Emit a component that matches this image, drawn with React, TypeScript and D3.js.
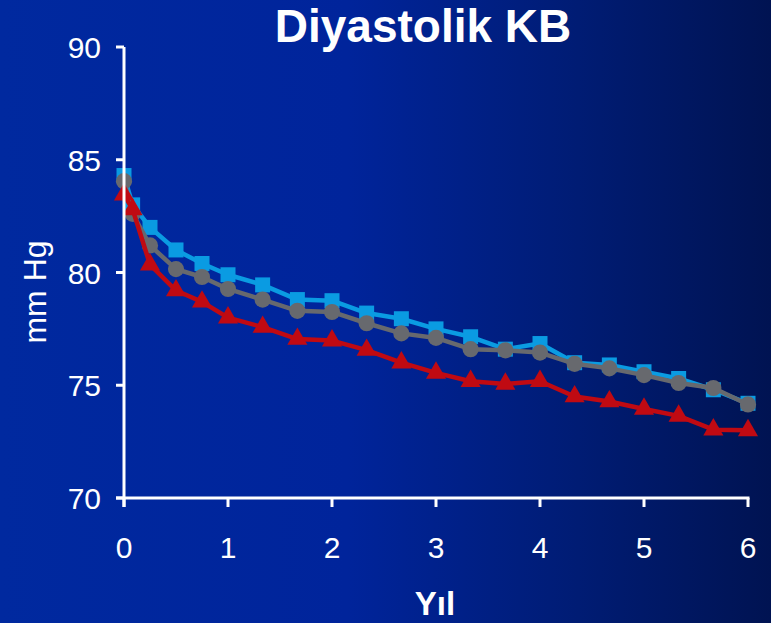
import React from "react";
import * as d3 from "d3";

const years = [0, 0.083, 0.25, 0.5, 0.75, 1, 1.333, 1.667, 2, 2.333, 2.667, 3, 3.333, 3.667, 4, 4.333, 4.667, 5, 5.333, 5.667, 6];
const blueSeries = [84.3, 83.0, 82.0, 81.0, 80.4, 79.9, 79.45, 78.8, 78.75, 78.2, 77.95, 77.5, 77.15, 76.6, 76.85, 76.0, 75.9, 75.6, 75.3, 74.8, 74.2];
const graySeries = [84.05, 82.6, 81.2, 80.15, 79.8, 79.27, 78.8, 78.3, 78.25, 77.75, 77.3, 77.1, 76.6, 76.55, 76.45, 75.95, 75.75, 75.45, 75.1, 74.88, 74.15];
const redSeries = [83.45, 82.8, 80.35, 79.2, 78.7, 78.0, 77.58, 77.05, 76.98, 76.56, 76.0, 75.55, 75.18, 75.06, 75.18, 74.5, 74.28, 73.95, 73.64, 73.03, 73.0];
const xTicks = [0, 1, 2, 3, 4, 5, 6];
const yTicks = [70, 75, 80, 85, 90];

const W = 771;
const H = 623;

export default function App() {
  const x = d3.scaleLinear().domain([0, 6]).range([124, 748]);
  const y = d3.scaleLinear().domain([70, 90]).range([498, 47]);
  const line = d3
    .line<number>()
    .x((_, i) => x(years[i]))
    .y((d) => y(d));

  const series = [
    { vals: blueSeries, color: "#0a9be2", symbol: d3.symbolSquare, size: 225 },
    { vals: graySeries, color: "#67696e", symbol: d3.symbolCircle, size: 205 },
    { vals: redSeries, color: "#c00a12", symbol: d3.symbolTriangle, size: 175 },
  ];

  const font = "'Liberation Sans', Arial, sans-serif";

  return (
    <svg width={W} height={H} style={{ position: "absolute", left: 0, top: 0 }} fontFamily={font}>
      <defs>
        <linearGradient id="bg" x1="0" y1="0" x2="1" y2="0">
          <stop offset="0%" stopColor="#00299f" />
          <stop offset="45%" stopColor="#00249b" />
          <stop offset="75%" stopColor="#001c74" />
          <stop offset="100%" stopColor="#001352" />
        </linearGradient>
      </defs>
      <rect x={0} y={0} width={W} height={H} fill="url(#bg)" />

      <text x={423} y={42} textAnchor="middle" fill="#fff" fontSize={46} fontWeight="bold">
        Diyastolik KB
      </text>

      {series.map((s, k) => (
        <g key={k}>
          <path d={line(s.vals) || ""} fill="none" stroke={s.color} strokeWidth={4.5} strokeLinejoin="round" />
          {s.vals.map((v, i) => (
            <path
              key={i}
              d={d3.symbol().type(s.symbol).size(s.size)() || ""}
              transform={`translate(${x(years[i])},${y(v)})`}
              fill={s.color}
            />
          ))}
        </g>
      ))}

      {/* axes */}
      <line x1={124} y1={47} x2={124} y2={507} stroke="#fff" strokeWidth={3} />
      <line x1={116} y1={498} x2={749.5} y2={498} stroke="#fff" strokeWidth={3} />
      {yTicks.map((t) => (
        <g key={t}>
          <line x1={116} x2={124} y1={y(t)} y2={y(t)} stroke="#fff" strokeWidth={3} />
          <text x={101} y={y(t) + 11} textAnchor="end" fill="#fff" fontSize={30}>
            {t}
          </text>
        </g>
      ))}
      {xTicks.map((t) => (
        <g key={t}>
          <line x1={x(t)} x2={x(t)} y1={498} y2={507} stroke="#fff" strokeWidth={3} />
          <text x={x(t)} y={558} textAnchor="middle" fill="#fff" fontSize={30}>
            {t}
          </text>
        </g>
      ))}

      <text x={435} y={615} textAnchor="middle" fill="#fff" fontSize={33} fontWeight="bold">
        Yıl
      </text>
      <text
        transform="translate(46,292) rotate(-90)"
        textAnchor="middle"
        fill="#fff"
        fontSize={32}
      >
        mm Hg
      </text>
    </svg>
  );
}
